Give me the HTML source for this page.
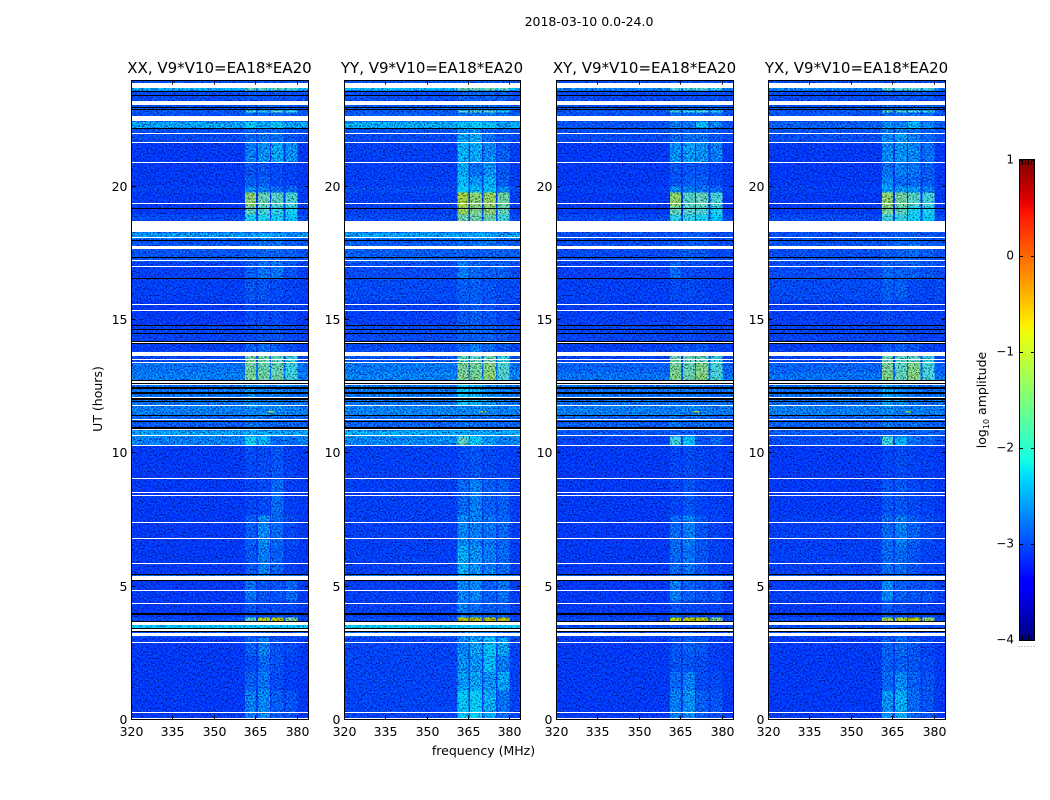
<!DOCTYPE html>
<html>
<head>
<meta charset="utf-8">
<title>Dynamic spectrum 2018-03-10</title>
<style>
html,body{margin:0;padding:0;background:#fff;}
svg{display:block;}
text{font-family:"DejaVu Sans","Liberation Sans",sans-serif;fill:#000;}
</style>
</head>
<body>
<svg id="chart" xmlns="http://www.w3.org/2000/svg" width="1050" height="800" viewBox="0 0 1050 800">
<defs>
<filter id="speckle" x="0" y="0" width="100%" height="100%" color-interpolation-filters="sRGB">
<feTurbulence type="fractalNoise" baseFrequency="0.62" numOctaves="2" seed="7" result="n"/>
<feColorMatrix in="n" type="matrix" values="2.4 0 0 0 -0.7  2.4 0 0 0 -0.7  2.4 0 0 0 -0.7  0 0 0 0 1" result="gray"/>
<feComposite in="SourceGraphic" in2="gray" operator="arithmetic" k1="1.35" k2="0.42" k3="0" k4="0" result="textured"/>
<feColorMatrix in="textured" type="matrix" values="0.72 0 0 0 0  0 0.85 0 0 0  0 0 1.2 0 0  0 0 0 1 0"/>
</filter>
</defs>
<text x="589" y="26" font-size="12.5" text-anchor="middle">2018-03-10 0.0-24.0</text>
<text transform="translate(102,399) rotate(-90)" font-size="12.5" text-anchor="middle">UT (hours)</text>
<text x="483.5" y="755" font-size="12.5" text-anchor="middle">frequency (MHz)</text>
<g id="panels"></g>
<g id="cbar"></g>
<text transform="translate(986,400) rotate(-90)" font-size="12.5" text-anchor="middle">log<tspan font-size="8" dy="3">10</tspan><tspan dy="-3"> amplitude</tspan></text>
</svg>
<script>
// ---------- chart data ----------
const panelNames = ['XX', 'YY', 'XY', 'YX'];
const baselineLabel = 'V9*V10=EA18*EA20';
const xTicks = [320, 335, 350, 365, 380];
const yTicks = [0, 5, 10, 15, 20];
const cbarTicks = [1, 0, -1, -2, -3, -4];
const freqEdges = [320, 361, 365, 365.7, 370, 370.5, 375, 375.7, 380, 384];
const freqBand = [0, 1, 0, 2, 0, 3, 0, 4, 0];
const hourEdges = [0,1.1,1.8,2.4,3.1,3.43,3.67,3.84,4.48,5.23,5.42,6.55,7.67,9,10.3,10.63,10.85,11.38,11.8,12.7,13.03,13.4,13.78,14.15,14.8,15.73,16.55,17.15,17.67,18.05,18.28,18.7,18.95,19.25,19.78,20,20.38,20.9,21.65,22,22.2,22.45,22.65,22.78,22.86,23.05,23.2,23.6,23.7,23.94];
// log10 amplitude per time band: [background, sub-band 1, 2, 3, 4]
const ampXX = [
[-3.08,-2.75,-2.7,-2.9,-2.95],[-3.08,-2.9,-2.8,-3,-3.05],[-3.08,-3,-2.85,-2.95,-3.05],[-3.08,-2.9,-2.75,-2.95,-3],
[-2.95,-2.95,-2.9,-3,-3],[-2.25,-2.25,-2.25,-2.25,-2.25],[-3,-1.65,-0.9,-0.55,-1.45],[-3.08,-2.95,-3,-3,-3],
[-3.08,-2.8,-2.95,-2.95,-2.85],[-2.6,-2.6,-2.5,-2.6,-2.7],[-3.08,-2.95,-2.75,-2.9,-3.05],[-3.08,-2.9,-2.7,-2.85,-3],
[-3.08,-3.03,-3,-2.85,-3.05],[-3.08,-3,-3,-2.95,-3.05],[-2.75,-2.15,-2.45,-2.85,-2.85],[-2.55,-2.5,-2.5,-2.55,-2.55],
[-2.9,-2.8,-2.85,-2.85,-2.9],[-2.75,-2.7,-2.7,-2.7,-2.75],[-2.8,-2.65,-2.75,-2.75,-2.8],[-2.75,-1.4,-1.45,-1.5,-1.8],
[-2.8,-1.45,-1.5,-1.55,-1.85],[-3,-1.45,-1.5,-1.6,-1.85],[-3.05,-2.9,-2.8,-2.9,-3],[-3.03,-3,-2.95,-2.95,-3],
[-3.08,-3,-3,-3,-3.03],[-3.05,-2.95,-2.95,-3,-3.03],[-3.05,-2.9,-2.8,-2.8,-2.95],[-2.95,-2.9,-2.85,-2.85,-2.9],
[-2.95,-2.9,-2.8,-2.8,-2.9],[-2.6,-2.6,-2.5,-2.6,-2.7],[-3,-3,-3,-3,-3],[-3,-2.15,-2.05,-2.15,-2.25],
[-3.08,-1.6,-1.75,-1.95,-2.1],[-3.08,-1.25,-1.55,-1.65,-1.75],[-3.05,-2.7,-2.75,-2.8,-2.85],[-3.08,-2.9,-2.9,-3,-3.03],
[-3.08,-2.95,-2.95,-3,-3.03],[-3.08,-2.75,-2.65,-2.55,-2.65],[-3,-2.85,-2.8,-2.8,-2.95],[-2.98,-2.85,-2.85,-2.85,-2.95],
[-2.55,-2.2,-2.5,-2.25,-2.6],[-3,-3,-3,-3,-3],[-2.95,-2.85,-2.85,-2.85,-2.85],[-2.95,-1.75,-1.95,-1.65,-1.95],[-2.95,-2.85,-2.85,-2.85,-2.85],
[-3,-3,-3,-3,-3],[-3,-2.95,-2.95,-2.95,-2.95],[-2.45,-1.65,-1.7,-1.65,-1.75],[-2.98,-2.95,-2.95,-2.95,-2.95]];
const ampYY = [
[-3.03,-2.25,-2.2,-2.5,-2.8],[-3.03,-2.6,-2.55,-2.65,-2.55],[-3.03,-2.65,-2.65,-2.4,-2.75],[-3.03,-2.7,-2.55,-2.3,-2.55],
[-2.9,-2.8,-2.75,-2.75,-2.9],[-2.2,-2.2,-2.2,-2.2,-2.2],[-3,-0.55,-0.55,-0.5,-0.55],[-3.05,-2.75,-2.85,-2.9,-2.9],
[-3.05,-2.7,-2.7,-2.9,-2.8],[-2.55,-2.55,-2.5,-2.55,-2.65],[-3.05,-2.5,-2.65,-2.75,-2.85],[-3.05,-2.7,-2.75,-2.8,-2.85],
[-3.05,-2.85,-2.75,-2.9,-2.9],[-3.05,-3,-2.95,-3,-3.03],[-2.7,-1.65,-2.2,-2.6,-2.75],[-2.5,-2.5,-2.5,-2.5,-2.5],
[-2.88,-2.8,-2.85,-2.85,-2.88],[-2.72,-2.7,-2.7,-2.7,-2.75],[-2.78,-2.2,-2.4,-2.65,-2.75],[-2.72,-1.35,-1.4,-1.25,-1.7],
[-2.78,-1.4,-1.45,-1.3,-1.7],[-2.95,-1.6,-1.6,-1.5,-1.85],[-3,-2.85,-2.75,-2.85,-2.95],[-3,-2.9,-2.9,-2.9,-2.95],
[-3.05,-2.95,-2.9,-2.95,-3],[-3,-2.9,-2.9,-2.95,-3],[-3,-2.75,-2.85,-2.9,-2.9],[-2.9,-2.9,-2.9,-2.9,-2.9],
[-2.9,-2.85,-2.8,-2.8,-2.85],[-2.55,-2.55,-2.5,-2.55,-2.65],[-3,-3,-3,-3,-3],[-3,-1.5,-1.5,-1.5,-1.8],
[-3.05,-1.15,-1.35,-1.25,-1.55],[-3.05,-1,-1.25,-1.15,-1.45],[-3,-2.2,-2.4,-2.3,-2.7],[-3.05,-2.35,-2.6,-2.5,-2.9],
[-3.05,-2.5,-2.8,-2.65,-2.95],[-3.05,-2.45,-2.5,-2.7,-2.9],[-3,-2.55,-2.5,-2.8,-2.95],[-2.95,-2.7,-2.65,-2.85,-2.9],
[-2.5,-2.3,-2.2,-2.3,-2.6],[-3,-3,-3,-3,-3],[-2.9,-2.8,-2.8,-2.8,-2.85],[-2.95,-1.65,-1.6,-1.65,-2.2],[-2.9,-2.8,-2.8,-2.8,-2.8],
[-3,-3,-3,-3,-3],[-2.98,-2.9,-2.9,-2.9,-2.9],[-2.4,-1.55,-1.55,-1.55,-1.6],[-2.95,-2.9,-2.9,-2.9,-2.9]];
const ampXY = [
[-3.08,-2.75,-2.65,-2.9,-2.95],[-3.08,-2.85,-2.75,-3,-3],[-3.08,-2.95,-2.95,-3,-3.05],[-3.08,-2.95,-2.9,-2.95,-3.05],
[-3,-2.95,-2.9,-3,-3.03],[-2.98,-2.95,-2.95,-2.95,-3],[-3,-0.85,-0.55,-0.6,-1.35],[-3.08,-2.95,-3,-3.03,-3.03],
[-3.08,-2.75,-2.9,-2.95,-2.95],[-2.85,-2.8,-2.75,-2.85,-2.9],[-3.08,-2.85,-2.8,-2.95,-3.03],[-3.08,-2.85,-2.75,-2.95,-3.03],
[-3.08,-3.02,-2.95,-3.03,-3.05],[-3.08,-3.02,-3,-3.03,-3.05],[-3.02,-1.85,-2.3,-2.95,-2.85],[-2.95,-2.9,-2.9,-2.95,-2.95],
[-2.9,-2.8,-2.85,-2.85,-2.9],[-2.75,-2.75,-2.75,-2.75,-2.78],[-2.82,-2.8,-2.8,-2.82,-2.85],[-2.8,-1.35,-1.5,-1.3,-1.75],
[-2.88,-1.4,-1.55,-1.35,-1.75],[-3.02,-1.5,-1.55,-1.55,-1.85],[-3.05,-3,-2.95,-2.95,-3.03],[-3.03,-3.03,-3,-3.03,-3.05],
[-3.05,-3.03,-3.03,-3.03,-3.05],[-3.05,-3,-3,-3.03,-3.05],[-3.05,-2.85,-3,-3,-3.03],[-3,-2.95,-2.9,-2.95,-3],
[-2.98,-2.95,-2.9,-2.9,-3],[-2.97,-2.95,-2.9,-2.9,-3],[-3,-3,-3,-3,-3],[-3,-1.95,-1.95,-2.05,-2.25],
[-3.08,-1.55,-1.65,-1.7,-2.05],[-3.08,-1.2,-1.65,-1.55,-1.75],[-3.05,-2.7,-2.75,-2.8,-2.85],[-3.08,-2.95,-2.9,-2.9,-3],
[-3.08,-2.95,-2.95,-2.95,-3.03],[-3.08,-2.65,-2.6,-2.65,-2.75],[-3,-2.85,-2.8,-2.8,-2.95],[-2.98,-2.9,-2.9,-2.9,-2.95],
[-2.95,-2.75,-2.8,-2.4,-2.75],[-3,-3,-3,-3,-3],[-2.95,-2.85,-2.85,-2.85,-2.85],[-2.95,-1.8,-1.95,-1.75,-2.1],[-2.95,-2.85,-2.85,-2.85,-2.85],
[-3,-3,-3,-3,-3],[-3,-2.98,-2.98,-2.98,-2.98],[-2.72,-1.75,-1.8,-1.7,-1.95],[-3,-2.98,-2.98,-2.98,-2.98]];
const ampYX = [
[-3.08,-2.65,-2.5,-2.85,-2.95],[-3.08,-2.85,-2.7,-2.9,-2.95],[-3.08,-2.9,-2.9,-2.95,-3],[-3.08,-2.9,-2.85,-2.95,-3.03],
[-3,-2.95,-2.9,-3,-3.03],[-2.98,-2.95,-2.95,-2.95,-3],[-3,-1.1,-0.95,-0.6,-1.2],[-3.08,-2.95,-3,-3.03,-3.03],
[-3.05,-2.7,-2.9,-2.95,-2.95],[-2.85,-2.8,-2.8,-2.85,-2.9],[-3.05,-2.85,-2.85,-2.95,-3.03],[-3.05,-2.85,-2.75,-2.9,-3],
[-3.08,-2.95,-2.95,-3,-3.03],[-3.08,-3.02,-3,-3.03,-3.05],[-2.98,-1.85,-2.45,-2.8,-2.85],[-2.92,-2.9,-2.9,-2.9,-2.9],
[-2.9,-2.8,-2.85,-2.85,-2.9],[-2.75,-2.7,-2.75,-2.75,-2.78],[-2.82,-2.55,-2.7,-2.8,-2.85],[-2.8,-1.35,-1.55,-1.3,-1.75],
[-2.88,-1.4,-1.6,-1.35,-1.75],[-3.02,-1.55,-1.65,-1.6,-1.9],[-3.05,-2.95,-2.9,-2.95,-3.03],[-3.03,-3.03,-3,-3.03,-3.05],
[-3.05,-3,-3.03,-3.03,-3.05],[-3,-2.9,-2.9,-3,-3.03],[-3,-2.85,-2.9,-2.9,-2.95],[-2.98,-2.9,-2.9,-2.85,-2.9],
[-2.95,-2.9,-2.85,-2.8,-2.9],[-2.97,-2.95,-2.9,-2.9,-2.95],[-3,-3,-3,-3,-3],[-3,-1.8,-1.9,-2.15,-2.25],
[-3.08,-1.4,-1.6,-2.05,-2.05],[-3.08,-1.25,-1.45,-1.65,-1.8],[-3.05,-2.55,-2.6,-2.65,-2.75],[-3.08,-2.7,-2.85,-2.85,-2.9],
[-3.08,-2.8,-2.75,-2.8,-2.9],[-3.08,-2.7,-2.65,-2.7,-2.8],[-2.98,-2.7,-2.6,-2.75,-2.85],[-2.95,-2.75,-2.75,-2.8,-2.85],
[-2.9,-2.7,-2.7,-2.45,-2.7],[-3,-3,-3,-3,-3],[-2.95,-2.85,-2.85,-2.85,-2.85],[-2.95,-1.7,-1.75,-1.7,-1.9],[-2.95,-2.85,-2.85,-2.85,-2.85],
[-3,-3,-3,-3,-3],[-3,-2.95,-2.95,-2.95,-2.95],[-2.72,-1.75,-1.75,-1.7,-1.8],[-3,-2.98,-2.98,-2.98,-2.98]];
const panelAmps = [ampXX, ampYY, ampXY, ampYX];
// time ranges (hours) with no data (white) and with near-zero amplitude (black)
const flaggedHours = [[23.68,23.85],[23.04,23.2],[22.44,22.64],[21.97,22],[21.62,21.65],[20.87,20.9],[19.32,19.35],[18.28,18.69],[18.06,18.1],[17.64,17.77],[17.19,17.23],[16.97,17],[15.54,15.58],[15.32,15.35],[14.1,14.14],[13.62,13.79],[13.47,13.51],[13.38,13.42],[12.61,12.7],[12.53,12.57],[12.05,12.11],[11.77,11.79],[11.22,11.26],[10.86,10.88],[10.63,10.67],[10.27,10.29],[9.01,9.04],[8.48,8.53],[8.39,8.43],[7.37,7.41],[6.77,6.81],[5.83,5.87],[5.23,5.38],[4.82,4.86],[4.33,4.37],[3.54,3.67],[3.31,3.38],[3.14,3.24],[2.87,2.91],[0.24,0.28],[0.02,0.06]];
const deadHours = [[23.55,23.58],[23.37,23.4],[22.95,22.98],[22.86,22.89],[22.13,22.18],[19.13,19.17],[17.93,17.97],[17.29,17.34],[16.52,16.56],[14.75,14.79],[14.59,14.63],[14.46,14.5],[14.14,14.18],[14.07,14.1],[12.7,12.73],[12.57,12.61],[12.41,12.45],[12.19,12.29],[11.98,12.05],[11.89,11.93],[11.39,11.41],[11.14,11.2],[10.88,10.96],[5.42,5.46],[5.2,5.23],[3.9,4],[3.67,3.69],[3.38,3.42],[3.28,3.31]];
// isolated strong pixels: frequency (MHz), hour, log10 amplitude
const hotPixels = [[369.5,11.53,-1],[370.5,11.53,-1]];

// ---------- axis functions ----------
const NS = 'http://www.w3.org/2000/svg';
const panelLeft = [131.5, 344.5, 556.5, 768.5];
const panelRight = [308.5, 520.5, 733.5, 945.5];
const axisTop = 81, axisBottom = 719.5;
const hourScale = h => axisBottom - h * 26.67;
const freqScale = (f, i) => panelLeft[i] + (f - 320) * (panelRight[i] - panelLeft[i]) / 64;
const cbarTop = 160, cbarBottom = 640, cbarX = 1019, cbarW = 16;
const cbarScale = v => cbarBottom - (v + 4) * (cbarBottom - cbarTop) / 5;

function interp(t, pts) {
  for (let k = 1; k < pts.length; k++) {
    if (t <= pts[k][0]) {
      const a = pts[k - 1], b = pts[k];
      return a[1] + (b[1] - a[1]) * (t - a[0]) / (b[0] - a[0]);
    }
  }
  return pts[pts.length - 1][1];
}
function jet(v) {
  const t = Math.max(0, Math.min(1, (v + 4) / 5));
  const r = interp(t, [[0, 0], [0.35, 0], [0.66, 1], [0.89, 1], [1, 0.5]]);
  const g = interp(t, [[0, 0], [0.125, 0], [0.375, 1], [0.64, 1], [0.91, 0], [1, 0]]);
  const b = interp(t, [[0, 0.5], [0.11, 1], [0.34, 1], [0.65, 0], [1, 0]]);
  return 'rgb(' + Math.round(r * 255) + ',' + Math.round(g * 255) + ',' + Math.round(b * 255) + ')';
}
function make(tag, parent, attrs) {
  const el = document.createElementNS(NS, tag);
  for (const k in attrs) el.setAttribute(k, attrs[k]);
  parent.appendChild(el);
  return el;
}

const panelsRoot = document.getElementById('panels');
panelNames.forEach((name, p) => {
  const L = panelLeft[p], R = panelRight[p];
  const panel = make('g', panelsRoot, {});
  
  

  const cells = make('g', panel, { filter: 'url(#speckle)', 'shape-rendering': 'crispEdges' });
  
  
  const amps = panelAmps[p];
  amps.forEach((row, r) => {
    const y1 = hourScale(hourEdges[r + 1]), y0 = hourScale(hourEdges[r]);
    freqBand.forEach((band, c) => {
      const x0 = freqScale(freqEdges[c], p), x1 = freqScale(freqEdges[c + 1], p);
      const cell = make('rect', cells, { x: x0, y: y1, width: x1 - x0 + 0.5, height: y0 - y1 + 0.5, fill: jet(row[band]) });
      
      
    });
  });
  hotPixels.forEach(h => {
    const x = freqScale(h[0], p);
    const pixel = make('rect', cells, { x: x, y: hourScale(h[1]) - 1, width: 3, height: 1.6, fill: jet(h[2]) });
    
    
  });

  const masks = make('g', panel, { 'shape-rendering': 'crispEdges' });
  
  
  flaggedHours.forEach(b => {
    const top = Math.round(hourScale(b[1]));
    const h = Math.max(1, Math.round(hourScale(b[0])) - top);
    const band = make('rect', masks, { x: L, y: top, width: R - L, height: h, fill: '#fff' });
    
    
  });
  deadHours.forEach(b => {
    const top = Math.round(hourScale(b[1]));
    const h = Math.max(1, Math.round(hourScale(b[0])) - top);
    const band = make('rect', masks, { x: L, y: top, width: R - L, height: h, fill: '#000' });
    
    
  });

  const frame = make('rect', panel, { x: L, y: axisTop - 0.5, width: R - L, height: axisBottom - axisTop + 0.5, fill: 'none', stroke: '#000', 'stroke-width': 1, 'shape-rendering': 'crispEdges' });
  
  

  xTicks.forEach(t => {
    const x = Math.round(freqScale(t, p) - 0.5) + 0.5;
    const tb = make('path', panel, { d: 'M' + x + ' ' + axisBottom + 'v-4M' + x + ' ' + (axisTop - 0.5) + 'v4', stroke: '#000', 'stroke-width': 1, fill: 'none', 'shape-rendering': 'crispEdges' });
    
    
    const lab = make('text', panel, { x: x, y: 736, 'font-size': 12.5, 'text-anchor': 'middle' });
    lab.textContent = t;
    
    
  });
  yTicks.forEach(t => {
    const y = Math.round(hourScale(t) - 0.5) + 0.5;
    const tb = make('path', panel, { d: 'M' + L + ' ' + y + 'h4M' + R + ' ' + y + 'h-4', stroke: '#000', 'stroke-width': 1, fill: 'none', 'shape-rendering': 'crispEdges' });
    
    
    const lab = make('text', panel, { x: L - 4, y: y + 4.5, 'font-size': 12.5, 'text-anchor': 'end' });
    lab.textContent = t;
    
    
  });
  const title = make('text', panel, { x: (L + R) / 2 - 0.5, y: 73, 'font-size': 15, 'text-anchor': 'middle' });
  title.textContent = name + ', ' + baselineLabel;
  
  
});

// ---------- colorbar ----------
const cbarRoot = document.getElementById('cbar');
for (let y = cbarTop; y < cbarBottom; y += 2) {
  const v = 1 - (y - cbarTop + 1) * 5 / (cbarBottom - cbarTop);
  const seg = make('rect', cbarRoot, { x: cbarX, y: y, width: cbarW, height: 2, fill: jet(v), 'shape-rendering': 'crispEdges' });
  
  
}
const cbarFrame = make('rect', cbarRoot, { x: cbarX + 0.5, y: cbarTop - 0.5, width: cbarW - 1, height: cbarBottom - cbarTop + 1, fill: 'none', stroke: '#000', 'stroke-width': 1, 'shape-rendering': 'crispEdges' });


cbarTicks.forEach(t => {
  const y = Math.round(cbarScale(t)) + 0.5;
  const tk = make('path', cbarRoot, { d: 'M' + cbarX + ' ' + y + 'h4M' + (cbarX + cbarW) + ' ' + y + 'h-4', stroke: '#000', 'stroke-width': 1, fill: 'none', 'shape-rendering': 'crispEdges' });
  
  
  const lab = make('text', cbarRoot, { x: cbarX - 5, y: cbarScale(t) + 3.5, 'font-size': 12, 'text-anchor': 'end' });
  lab.textContent = String(t).replace('-', '\u2212');
  
  
});
for (let k = 0; k < 6; k++) {
  const x = cbarX + 0.5 + k * 3;
  const tt = make('path', cbarRoot, { d: 'M' + x + ' ' + cbarTop + 'v5M' + x + ' ' + cbarBottom + 'v-5', stroke: '#000', 'stroke-width': 1, fill: 'none', 'shape-rendering': 'crispEdges' });
  
  
  const dot = make('rect', cbarRoot, { x: x - 1, y: 646, width: 1, height: 1, fill: '#999' });
  
  
}
</script>
</body>
</html>
